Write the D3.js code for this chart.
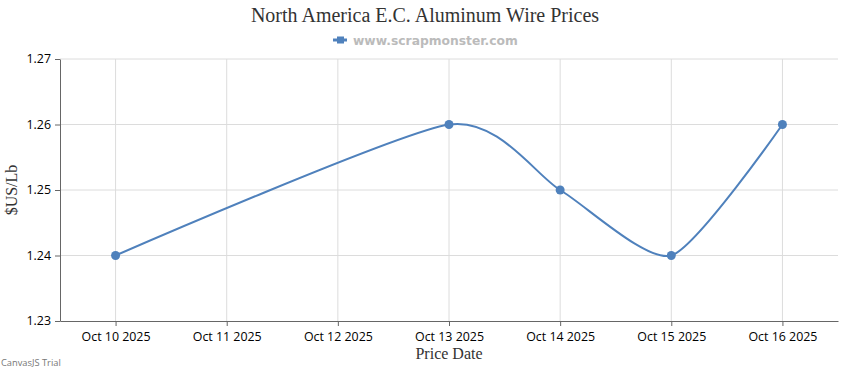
<!DOCTYPE html>
<html>
<head>
<meta charset="utf-8">
<script src="https://cdn.jsdelivr.net/npm/d3@7"></script>
<style>
  body { margin: 0; background: #fff; }
  svg { display: block; }
</style>
</head>
<body>
<div id="vis-container"></div>
<script>
// data
var dates = ["2025-10-10", "2025-10-13", "2025-10-14", "2025-10-15", "2025-10-16"];
var prices = [1.24, 1.26, 1.25, 1.24, 1.26];
var tickDates = ["2025-10-10", "2025-10-11", "2025-10-12", "2025-10-13", "2025-10-14", "2025-10-15", "2025-10-16"];
var yTicks = [1.23, 1.24, 1.25, 1.26, 1.27];

var width = 850;
var height = 370;
var margin = { left: 60, right: 12, top: 59, bottom: 49 };

var parse = d3.timeParse("%Y-%m-%d");
var fmt = d3.timeFormat("%b %d %Y");
var data = dates.map(function(d, i) { return { date: parse(d), value: prices[i] }; });

var svg = d3.select("#vis-container")
  .append("svg")
  .attr("width", width)
  .attr("height", height);

// half a day of padding on each side
var start = d3.timeHour.offset(parse("2025-10-10"), -12);
var end = d3.timeHour.offset(parse("2025-10-16"), 12);

var xscale = d3.scaleTime().domain([start, end]).range([margin.left, width - margin.right]);
var yscale = d3.scaleLinear().domain([1.23, 1.27]).range([height - margin.bottom, margin.top]);

// gridlines
svg.append("g").selectAll("line")
  .data(yTicks.slice(1))
  .enter().append("line")
  .attr("x1", margin.left).attr("x2", width - margin.right)
  .attr("y1", function(d) { return yscale(d); })
  .attr("y2", function(d) { return yscale(d); })
  .attr("stroke", "#dcdcdc");

svg.append("g").selectAll("line")
  .data(tickDates)
  .enter().append("line")
  .attr("x1", function(d) { return xscale(parse(d)); })
  .attr("x2", function(d) { return xscale(parse(d)); })
  .attr("y1", margin.top).attr("y2", height - margin.bottom)
  .attr("stroke", "#dcdcdc");

// axes
var xaxis = d3.axisBottom(xscale)
  .tickValues(tickDates.map(parse))
  .tickFormat(fmt)
  .tickSize(5)
  .tickSizeOuter(0)
  .tickPadding(6);

var yaxis = d3.axisLeft(yscale)
  .tickValues(yTicks)
  .tickFormat(d3.format(".2f"))
  .tickSize(5)
  .tickSizeOuter(0)
  .tickPadding(4);

var xaxisg = svg.append("g")
  .attr("transform", "translate(0," + (height - margin.bottom) + ")")
  .call(xaxis);

var yaxisg = svg.append("g")
  .attr("transform", "translate(" + margin.left + ",0)")
  .call(yaxis);

[xaxisg, yaxisg].forEach(function(g) {
  g.select(".domain").attr("stroke", "#666");
  g.selectAll(".tick line").attr("stroke", "#666");
  g.selectAll(".tick text")
    .attr("fill", "#000")
    .style("font-family", "'Open Sans', sans-serif")
    .style("font-size", "12.4px");
});

// line (spline, a little tighter than catmull-rom)
var line = d3.line()
  .x(function(d) { return xscale(d.date); })
  .y(function(d) { return yscale(d.value); })
  .curve(d3.curveCardinal.tension(1 / 3));

svg.append("path")
  .datum(data)
  .attr("fill", "none")
  .attr("stroke", "#4f81bc")
  .attr("stroke-width", 2)
  .attr("d", line);

svg.selectAll("circle.pt")
  .data(data)
  .enter().append("circle")
  .attr("class", "pt")
  .attr("cx", function(d) { return xscale(d.date); })
  .attr("cy", function(d) { return yscale(d.value); })
  .attr("r", 4.5)
  .attr("fill", "#4f81bc");

// titles
svg.append("text")
  .attr("x", width / 2).attr("y", 22)
  .attr("text-anchor", "middle")
  .style("font-family", "'Liberation Serif', serif")
  .style("font-size", "20px")
  .attr("fill", "#333")
  .text("North America E.C. Aluminum Wire Prices");

// legend
var legend = svg.append("g").attr("transform", "translate(333,40)");
legend.append("line")
  .attr("x1", 0).attr("x2", 14).attr("y1", 0).attr("y2", 0)
  .attr("stroke", "#4f81bc").attr("stroke-width", 3);
legend.append("rect")
  .attr("x", 4).attr("y", -3.5).attr("width", 7).attr("height", 7)
  .attr("fill", "#4f81bc");
legend.append("text")
  .attr("x", 20).attr("y", 5)
  .style("font-family", "'DejaVu Sans', sans-serif")
  .style("font-size", "12.3px")
  .style("font-weight", "bold")
  .attr("fill", "#bbb")
  .text("www.scrapmonster.com");

svg.append("text")
  .attr("transform", "translate(17," + yscale(1.25) + ") rotate(-90)")
  .attr("text-anchor", "middle")
  .style("font-family", "'Liberation Serif', serif")
  .style("font-size", "16px")
  .attr("fill", "#333")
  .text("$US/Lb");

svg.append("text")
  .attr("x", (margin.left + width - margin.right) / 2).attr("y", 359)
  .attr("text-anchor", "middle")
  .style("font-family", "'Liberation Serif', serif")
  .style("font-size", "16px")
  .attr("fill", "#333")
  .text("Price Date");

svg.append("text")
  .attr("x", 1).attr("y", 366)
  .style("font-family", "'Open Sans', sans-serif")
  .style("font-size", "9.3px")
  .attr("fill", "#777")
  .text("CanvasJS Trial");
</script>
</body>
</html>
